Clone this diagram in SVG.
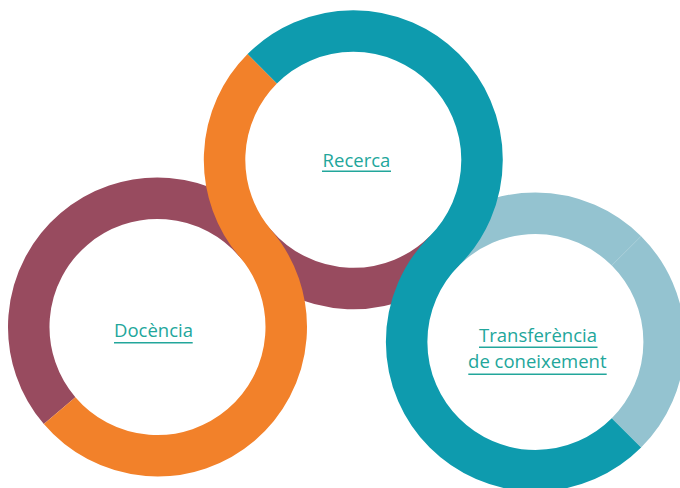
<svg xmlns="http://www.w3.org/2000/svg" width="680" height="488" viewBox="0 0 680 488">
  <style>
    .band { fill: none; stroke-width: 41.5; stroke-linecap: butt; }
    .maroon { stroke: #984b5f; }
    .lblue { stroke: #94c3d0; }
    .orange { stroke: #f2812a; }
    .teal { stroke: #0e9bae; }
    .hole { fill: #ffffff; }
    .label { font-family: "Open Sans", "Noto Sans", "Liberation Sans", sans-serif; font-size: 18.5px; fill: #22a69b; text-anchor: middle; }
    .ul { stroke: #22a69b; stroke-width: 1.5; }
  </style>
  <rect width="680" height="488" fill="#ffffff"/>
  <g id="connectors">
    <!-- back S: maroon (left ring top -> top ring bottom) continuing as light blue on right ring -->
    <path class="band maroon" d="M 59.60 410.62 A 128.75 128.75 0 0 1 73.88 229.10 A 128.75 128.75 0 0 1 255.40 243.40 A 128.75 128.75 0 0 0 444.34 250.84"/>
    <path class="band lblue" d="M 444.34 250.84 A 128.75 128.75 0 0 1 626.44 250.86"/>
    <path class="band lblue" d="M 626.44 250.86 A 128.75 128.75 0 0 1 626.44 432.94"/>
    <!-- front S: orange (top ring left -> left ring right/bottom) -->
    <path class="band orange" d="M 262.26 68.76 A 128.75 128.75 0 0 0 255.40 243.40 A 128.75 128.75 0 0 1 241.12 424.90 A 128.75 128.75 0 0 1 59.60 410.62"/>
    <!-- front S: teal (top ring top/right -> right ring left/bottom) -->
    <path class="band teal" d="M 262.26 68.76 A 128.75 128.75 0 0 1 444.34 68.76 A 128.75 128.75 0 0 1 444.34 250.84 A 128.75 128.75 0 0 0 444.36 432.94 A 128.75 128.75 0 0 0 626.44 432.94"/>
  </g>
  <g id="node-recerca">
    <circle class="hole" cx="353.3" cy="159.8" r="107"/>
    <text class="label" x="356.5" y="166.7">Recerca</text>
    <line class="ul" x1="322" y1="171.2" x2="391" y2="171.2"/>
  </g>
  <g id="node-docencia">
    <circle class="hole" cx="157.5" cy="327" r="107"/>
    <text class="label" x="153.5" y="337.3">Docència</text>
    <line class="ul" x1="114" y1="342.7" x2="192.7" y2="342.7"/>
  </g>
  <g id="node-transferencia">
    <circle class="hole" cx="535.4" cy="341.9" r="107"/>
    <text class="label" x="538" y="341.7">Transferència</text>
    <line class="ul" x1="479" y1="347.3" x2="597.5" y2="347.3"/>
    <text class="label" x="537.3" y="368.3">de coneixement</text>
    <line class="ul" x1="468.3" y1="374.3" x2="606.7" y2="374.3"/>
  </g>
</svg>
